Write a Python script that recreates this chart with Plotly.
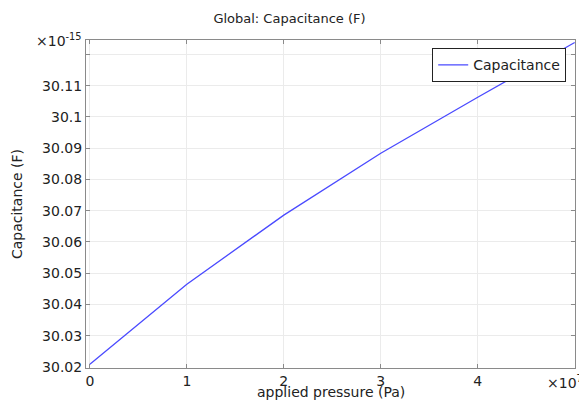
import plotly.graph_objects as go

# Applied pressure in units of 1e7 Pa, capacitance in units of 1e-15 F
pressure_e7 = [0, 1, 2, 3, 4, 5]
capacitance_e15 = [30.0209, 30.0465, 30.0686, 30.0884, 30.1063, 30.1238]

x_tick_vals = [0, 1, 2, 3, 4]
x_tick_text = ["0", "1", "2", "3", "4"]
y_tick_vals = [30.02, 30.03, 30.04, 30.05, 30.06, 30.07, 30.08, 30.09, 30.10, 30.11, 30.12]
y_tick_text = ["30.02", "30.03", "30.04", "30.05", "30.06", "30.07", "30.08", "30.09", "30.1", "30.11", ""]

FONT = "DejaVu Sans, sans-serif"
TEXT = "#222222"

fig = go.Figure()
fig.add_trace(go.Scatter(
    x=pressure_e7, y=capacitance_e15, mode="lines", name="Capacitance",
    line=dict(color="#4a4aff", width=1.3),
))

axis_common = dict(
    showline=True, linecolor="#8a8a8a", linewidth=1, mirror="ticks",
    ticks="inside", ticklen=4, tickcolor="#8a8a8a",
    showgrid=True, gridcolor="#ebebeb", gridwidth=1,
    zeroline=False, automargin=False,
    tickfont=dict(family=FONT, size=14, color=TEXT),
)

fig.update_layout(
    width=579, height=401,
    margin=dict(l=86, r=4, t=40, b=33),
    paper_bgcolor="white", plot_bgcolor="white",
    title=dict(text="Global: Capacitance (F)", x=0.5, xanchor="center",
               y=0.955, yanchor="middle",
               font=dict(family=FONT, size=13, color=TEXT)),
    xaxis=dict(range=[-0.04, 5.003], tickmode="array",
               tickvals=x_tick_vals, ticktext=x_tick_text,
               **axis_common),
    yaxis=dict(range=[30.0197, 30.1246], tickmode="array",
               tickvals=y_tick_vals, ticktext=y_tick_text,
               title=dict(text="Capacitance (F)", standoff=16,
                          font=dict(family=FONT, size=14, color=TEXT)),
               **axis_common),
    showlegend=True,
    legend=dict(x=0.982, y=0.975, xanchor="right", yanchor="top",
                bgcolor="white", bordercolor="#222222", borderwidth=1,
                font=dict(family=FONT, size=14, color=TEXT),
                itemwidth=30, tracegroupgap=0),
)

# x-axis title placed just below the tick labels
fig.add_annotation(text="applied pressure (Pa)", xref="paper", yref="paper",
                   x=0.5, y=0, xanchor="center", yanchor="top", yshift=-14,
                   showarrow=False, font=dict(family=FONT, size=14, color=TEXT))

# Axis multiplier labels
fig.add_annotation(text="×10<sup>-15</sup>", xref="paper", yref="paper",
                   x=0, y=1, xanchor="right", yanchor="middle", xshift=-2,
                   showarrow=False, font=dict(family=FONT, size=14, color=TEXT))
fig.add_annotation(text="×10<sup>7</sup>", xref="x", yref="paper",
                   x=5, y=0, xanchor="center", yanchor="top", yshift=-3, xshift=-10,
                   showarrow=False, font=dict(family=FONT, size=14, color=TEXT))

fig.write_html("out.html")
